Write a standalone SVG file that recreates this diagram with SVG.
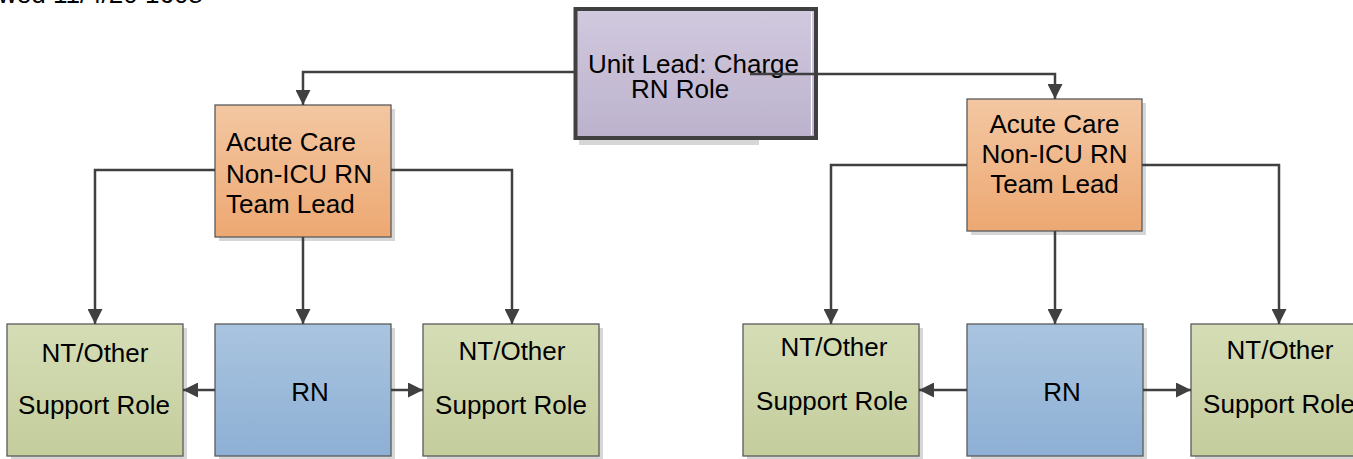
<svg xmlns="http://www.w3.org/2000/svg" width="1353" height="459" viewBox="0 0 1353 459">
<style>
  .t { font-family: "Liberation Sans", Arial, sans-serif; font-size: 26px; fill: #000; }
  .box { stroke: #5b5b5b; stroke-width: 1.3; }
  .sh { fill: #d6d6d6; }
  .con { fill: none; stroke: #404040; stroke-width: 2.5; }
</style>
<defs>
  <linearGradient id="gPurple" x1="0" y1="0" x2="0" y2="1">
    <stop offset="0" stop-color="#d1c9de"/>
    <stop offset="1" stop-color="#bcb2cd"/>
  </linearGradient>
  <linearGradient id="gOrange" x1="0" y1="0" x2="0" y2="1">
    <stop offset="0" stop-color="#f3c7a2"/>
    <stop offset="1" stop-color="#eda872"/>
  </linearGradient>
  <linearGradient id="gGreen" x1="0" y1="0" x2="0" y2="1">
    <stop offset="0" stop-color="#d5ddb6"/>
    <stop offset="1" stop-color="#c4cd9c"/>
  </linearGradient>
  <linearGradient id="gBlue" x1="0" y1="0" x2="0" y2="1">
    <stop offset="0" stop-color="#a9c4df"/>
    <stop offset="1" stop-color="#8eb0d5"/>
  </linearGradient>
  <marker id="arr" markerUnits="userSpaceOnUse" markerWidth="15" markerHeight="15" viewBox="0 0 15 15" refX="15" refY="7.5" orient="auto">
    <path d="M0,0 L15,7.5 L0,15 z" fill="#404040"/>
  </marker>
</defs>

<text class="t" x="-2" y="3">wed 11/4/20 1608</text>

<g id="unit-lead">
  <rect class="sh" x="579" y="138" width="180" height="7"/>
  <rect x="575.5" y="9" width="240.5" height="129" fill="url(#gPurple)" stroke="#404040" stroke-width="4"/>
  <line x1="811.5" y1="12" x2="811.5" y2="135" stroke="#ffffff" stroke-width="1.2"/>
  <text class="t" x="588" y="73">Unit Lead: Charge</text>
  <text class="t" x="631" y="98">RN Role</text>
</g>

<g id="lead-left">
  <rect class="sh" x="219" y="109" width="176" height="132"/>
  <rect class="box" x="215" y="105" width="176" height="132" fill="url(#gOrange)"/>
  <text class="t" x="226" y="151">Acute Care</text>
  <text class="t" x="226" y="183">Non-ICU RN</text>
  <text class="t" x="226" y="213">Team Lead</text>
</g>

<g id="lead-right">
  <rect class="sh" x="971" y="103" width="175" height="132"/>
  <rect class="box" x="967" y="99" width="175" height="132" fill="url(#gOrange)"/>
  <text class="t" x="1054.5" y="133" text-anchor="middle">Acute Care</text>
  <text class="t" x="1054.5" y="163" text-anchor="middle">Non-ICU RN</text>
  <text class="t" x="1054.5" y="193" text-anchor="middle">Team Lead</text>
</g>

<g id="nt-l1">
  <rect class="sh" x="11" y="328" width="176" height="132"/>
  <rect class="box" x="7" y="324" width="176" height="132" fill="url(#gGreen)"/>
  <text class="t" x="95" y="362" text-anchor="middle">NT/Other</text>
  <text class="t" x="94" y="414" text-anchor="middle">Support Role</text>
</g>
<g id="rn-l">
  <rect class="sh" x="219" y="328" width="176" height="132"/>
  <rect class="box" x="215" y="324" width="176" height="132" fill="url(#gBlue)"/>
  <text class="t" x="310" y="401" text-anchor="middle">RN</text>
</g>
<g id="nt-l2">
  <rect class="sh" x="427" y="328" width="176" height="132"/>
  <rect class="box" x="423" y="324" width="176" height="132" fill="url(#gGreen)"/>
  <text class="t" x="512" y="360" text-anchor="middle">NT/Other</text>
  <text class="t" x="511" y="414" text-anchor="middle">Support Role</text>
</g>

<g id="nt-r1">
  <rect class="sh" x="747" y="328" width="176" height="132"/>
  <rect class="box" x="743" y="324" width="176" height="132" fill="url(#gGreen)"/>
  <text class="t" x="834" y="356" text-anchor="middle">NT/Other</text>
  <text class="t" x="832" y="410" text-anchor="middle">Support Role</text>
</g>
<g id="rn-r">
  <rect class="sh" x="971" y="328" width="176" height="132"/>
  <rect class="box" x="967" y="324" width="176" height="132" fill="url(#gBlue)"/>
  <text class="t" x="1062" y="401" text-anchor="middle">RN</text>
</g>
<g id="nt-r2">
  <rect class="sh" x="1195" y="328" width="176" height="132"/>
  <rect class="box" x="1191" y="324" width="176" height="132" fill="url(#gGreen)"/>
  <text class="t" x="1280" y="359" text-anchor="middle">NT/Other</text>
  <text class="t" x="1279" y="413" text-anchor="middle">Support Role</text>
</g>

<g id="connectors">
  <path class="con" d="M575,72 H303 V105" marker-end="url(#arr)"/>
  <path class="con" d="M750,74 H1055 V99" marker-end="url(#arr)"/>
  <path class="con" d="M215,170 H95 V324" marker-end="url(#arr)"/>
  <path class="con" d="M303,237 V324" marker-end="url(#arr)"/>
  <path class="con" d="M391,170 H512 V324" marker-end="url(#arr)"/>
  <path class="con" d="M967,165 H831 V324" marker-end="url(#arr)"/>
  <path class="con" d="M1055,231 V324" marker-end="url(#arr)"/>
  <path class="con" d="M1142,165 H1279 V324" marker-end="url(#arr)"/>
  <path class="con" d="M215,390 H183" marker-end="url(#arr)"/>
  <path class="con" d="M391,390 H423" marker-end="url(#arr)"/>
  <path class="con" d="M967,390 H919" marker-end="url(#arr)"/>
  <path class="con" d="M1143,390 H1191" marker-end="url(#arr)"/>
</g>
</svg>
